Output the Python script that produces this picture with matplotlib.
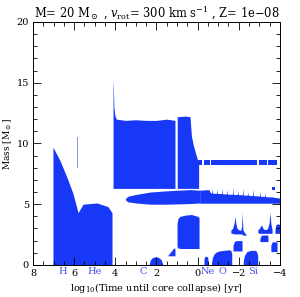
import matplotlib
matplotlib.use('Agg')
import matplotlib.pyplot as plt
from matplotlib.ticker import MultipleLocator

# convective zones (x = log10 time to collapse, y = mass in Msun)
h_core_x = [7.03, 6.69, 6.35, 6.06, 5.81, 5.57, 4.89, 4.36, 4.16]
h_core_top = [9.7, 8.6, 7.2, 5.9, 4.3, 5.0, 5.1, 4.8, 4.3]

thin_line_x = 5.84
thin_line_mass = [8.1, 10.5]

env_a_x = [4.11, 4.09, 4.07, 4.02, 3.95, 3.5, 3.0, 2.5, 2.0, 1.5, 1.10]
env_a_top = [15.3, 14.5, 13.0, 12.3, 12.0, 11.9, 11.95, 11.9, 11.9, 12.0, 11.9]
env_a_bot = [6.3, 6.3, 6.3, 6.3, 6.3, 6.3, 6.3, 6.3, 6.3, 6.3, 6.3]

env_b_x = [0.99, 0.6, 0.37, 0.30, 0.2, 0.1, 0.03, -0.05]
env_b_top = [12.2, 12.25, 12.2, 10.6, 9.8, 9.2, 8.8, 8.4]
env_b_bot = [6.3, 6.3, 6.3, 6.3, 6.3, 6.3, 6.3, 6.3]

# intermediate shell: wedge part, then the spiky part at constant base
wedge_x = [3.53, 3.4, 3.0, 2.31, 1.5, 0.37, -0.1]
wedge_top = [5.4, 5.65, 5.8, 6.0, 6.1, 6.2, 6.15]
wedge_bot = [5.4, 5.2, 5.1, 5.0, 5.0, 5.05, 5.1]

spiky_x = [-0.1, -0.55, -0.62, -0.68, -0.70, -0.72, -0.92, -0.94, -0.96, -1.16, -1.18, -1.20,
           -1.41, -1.43, -1.45, -1.70, -1.72, -1.74, -1.94, -1.96, -1.98, -2.18, -2.20, -2.22,
           -2.43, -2.45, -2.47, -2.67, -2.69, -2.71, -3.01, -3.03, -3.05, -3.25, -3.27, -3.29,
           -3.6, -4.0]
spiky_top = [6.15, 6.2, 5.95, 5.9, 6.3, 5.9, 5.9, 6.2, 5.88, 5.88, 6.35, 5.85,
             5.85, 6.2, 5.82, 5.82, 6.4, 5.8, 5.8, 6.1, 5.78, 5.78, 6.3, 5.75,
             5.75, 6.0, 5.72, 5.72, 6.25, 5.7, 5.68, 6.1, 5.65, 5.65, 5.95, 5.62,
             5.6, 5.5]
spiky_bot = 5.08

strip_segments = [(-0.02, -0.22), (-0.30, -0.58), (-0.64, -2.90), (-2.97, -3.35), (-3.42, -3.86)]
strip_bot, strip_top = 8.2, 8.6

blob_x = [-3.64, -3.78]
blob_bot = [6.2, 6.2]
blob_top = [6.45, 6.45]

c_core_x = [2.36, 2.30, 2.20, 2.05, 1.90, 1.78, 1.68]
c_core_top = [0.0, 0.4, 0.6, 0.68, 0.62, 0.45, 0.0]

c_sh1_x = [1.44, 1.30, 1.15, 1.10]
c_sh1_bot = [0.75, 0.75, 0.75, 0.75]
c_sh1_top = [0.8, 1.1, 1.4, 1.35]

c_sh2_x = [1.0, 0.95, 0.85, 0.6, 0.3, 0.0, -0.07]
c_sh2_bot = [1.5, 1.4, 1.35, 1.35, 1.35, 1.35, 1.35]
c_sh2_top = [3.4, 3.85, 4.0, 4.1, 4.15, 4.0, 3.9]

ne_core_x = [-0.31, -0.35, -0.45, -0.50]
ne_core_top = [0.5, 0.7, 0.7, 0.6]

o_core_x = [-0.68, -0.72, -0.8, -0.9, -1.05, -1.3, -1.55, -1.63, -1.66]
o_core_top = [0.2, 0.6, 0.9, 1.05, 1.15, 1.2, 1.25, 1.15, 0.9]

o_sh1_x = [-1.72, -1.78, -1.85, -2.16]
o_sh1_bot = [1.15, 1.15, 1.15, 1.15]
o_sh1_top = [1.6, 1.9, 2.0, 2.0]

o_sh2_x = [-1.62, -1.7, -1.78, -1.82, -1.86, -1.92, -2.0, -2.1, -2.14, -2.17, -2.2, -2.3, -2.35]
o_sh2_bot = [2.6, 2.6, 2.55, 2.55, 2.55, 2.55, 2.55, 2.55, 2.55, 2.5, 2.45, 2.45, 2.45]
o_sh2_top = [2.9, 3.0, 3.5, 4.0, 3.4, 3.0, 2.9, 2.85, 3.2, 4.3, 2.9, 2.6, 2.55]

si_core_x = [-2.22, -2.28, -2.4, -2.6, -2.8, -2.87, -2.92]
si_core_top = [0.3, 0.8, 1.1, 1.2, 1.2, 1.1, 0.8]

si_sh1_x = [-3.03, -3.1, -3.4, -3.42]
si_sh1_bot = [1.92, 1.92, 1.92, 1.92]
si_sh1_top = [2.2, 2.45, 2.47, 2.3]

si_sh2_x = [-3.56, -3.62, -3.86]
si_sh2_bot = [1.1, 1.1, 1.1]
si_sh2_top = [1.6, 1.9, 1.9]

si_sh3_x = [-2.93, -3.0, -3.1, -3.2, -3.3, -3.4, -3.48, -3.52, -3.56, -3.62]
si_sh3_bot = [2.65, 2.6, 2.6, 2.6, 2.6, 2.6, 2.6, 2.6, 2.6, 2.6]
si_sh3_top = [2.9, 3.0, 3.3, 2.95, 2.9, 3.0, 3.5, 4.35, 3.4, 2.9]

si_sh4_x = [-3.76, -3.8, -3.9, -4.0]
si_sh4_bot = [2.6, 2.6, 2.6, 2.6]
si_sh4_top = [2.9, 3.3, 3.4, 3.3]

burn_labels = ['H', 'He', 'C', 'Ne', 'O', 'Si']
burn_label_x = [6.54, 4.99, 2.66, -0.5, -1.23, -2.69]

blue = '#1838f8'
label_blue = '#4050e8'

plt.rcParams['font.family'] = 'DejaVu Serif'
plt.rcParams['mathtext.fontset'] = 'dejavuserif'

fig = plt.figure(figsize=(3.0, 2.97), dpi=100)
ax = fig.add_axes([0.11, 0.108, 0.823, 0.818])

ax.fill_between(h_core_x, 0, h_core_top, color=blue, lw=0)
ax.plot([thin_line_x, thin_line_x], thin_line_mass, color='#8090f0', lw=0.7)
ax.fill_between(env_a_x, env_a_bot, env_a_top, color=blue, lw=0)
ax.fill_between(env_b_x, env_b_bot, env_b_top, color=blue, lw=0)
ax.fill_between(wedge_x, wedge_bot, wedge_top, color=blue, lw=0)
ax.fill_between(spiky_x, spiky_bot, spiky_top, color=blue, lw=0)
for x0, x1 in strip_segments:
    ax.fill_between([x0, x1], strip_bot, strip_top, color=blue, lw=0)
ax.fill_between(blob_x, blob_bot, blob_top, color=blue, lw=0)

ax.fill_between(c_core_x, 0, c_core_top, color=blue, lw=0)
ax.fill_between(c_sh1_x, c_sh1_bot, c_sh1_top, color=blue, lw=0)
ax.fill_between(c_sh2_x, c_sh2_bot, c_sh2_top, color=blue, lw=0)
ax.fill_between(ne_core_x, 0, ne_core_top, color=blue, lw=0)
ax.fill_between(o_core_x, 0, o_core_top, color=blue, lw=0)
ax.fill_between(o_sh1_x, o_sh1_bot, o_sh1_top, color=blue, lw=0)
ax.fill_between(o_sh2_x, o_sh2_bot, o_sh2_top, color=blue, lw=0)
ax.fill_between(si_core_x, 0, si_core_top, color=blue, lw=0)
ax.fill_between(si_sh1_x, si_sh1_bot, si_sh1_top, color=blue, lw=0)
ax.fill_between(si_sh2_x, si_sh2_bot, si_sh2_top, color=blue, lw=0)
ax.fill_between(si_sh3_x, si_sh3_bot, si_sh3_top, color=blue, lw=0)
ax.fill_between(si_sh4_x, si_sh4_bot, si_sh4_top, color=blue, lw=0)

ax.set_xlim(8, -4)
ax.set_ylim(0, 20)
ax.xaxis.set_major_locator(MultipleLocator(2))
ax.xaxis.set_minor_locator(MultipleLocator(0.5))
ax.yaxis.set_major_locator(MultipleLocator(5))
ax.yaxis.set_minor_locator(MultipleLocator(1))
ax.tick_params(which='both', direction='in', top=True, right=True, labelsize=7, width=0.6)
ax.tick_params(which='major', length=6, pad=3)
ax.tick_params(which='minor', length=3)
for sp in ax.spines.values():
    sp.set_linewidth(0.7)

for lab, lx in zip(burn_labels, burn_label_x):
    ax.text(lx, -0.028, lab, transform=ax.get_xaxis_transform(), color=label_blue,
            fontsize=7, ha='center', va='center')

ax.set_title(r'M= 20 M$_\odot$ , $v_{\rm rot}$= 300 km s$^{-1}$ , Z= 1e$-$08', fontsize=8.3, pad=2)
ax.set_xlabel(r'log$_{10}$(Time until core collapse) [yr]', fontsize=7, labelpad=2)
ax.set_ylabel(r'Mass [M$_\odot$]', fontsize=6.5)
ax.yaxis.set_label_coords(-0.075, 0.5)

fig.savefig('out.png', dpi=100)
